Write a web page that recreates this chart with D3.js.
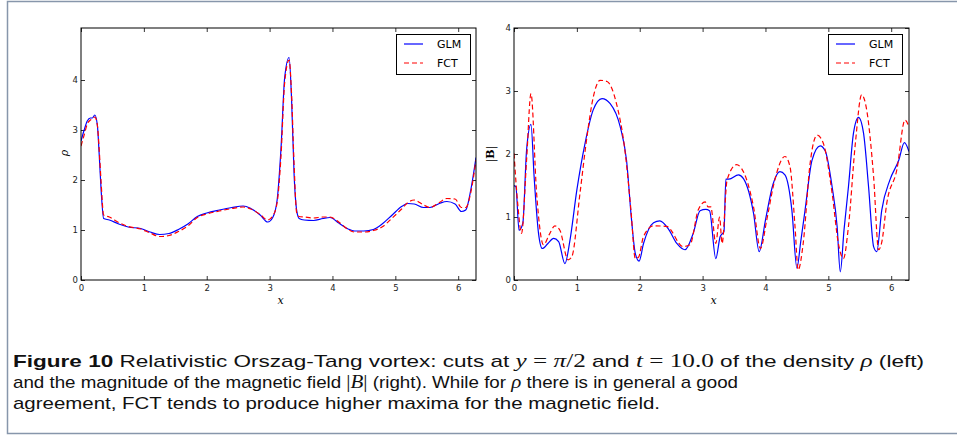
<!DOCTYPE html>
<html lang="en">
<head>
<meta charset="utf-8" />
<title>Orszag-Tang cuts</title>
<script src="https://d3js.org/d3.v7.min.js"></script>
<style>
body { margin:0; background:#fff; }
svg { display:block; }
</style>
</head>
<body>
<div id="figure"></div>
<script type="text/javascript">
// left panel: density rho along the cut
var rhoX   = [0.00,0.05,0.10,0.15,0.18,0.22,0.26,0.29,0.32,0.36,0.45,0.60,0.75,0.95,1.10,1.25,1.40,1.55,1.70,1.85,2.00,2.20,2.40,2.58,2.70,2.85,2.97,3.05,3.12,3.18,3.24,3.31,3.35,3.39,3.43,3.47,3.55,3.70,3.85,3.96,4.10,4.25,4.35,4.50,4.65,4.80,4.95,5.10,5.20,5.30,5.45,5.55,5.70,5.82,5.95,6.05,6.12,6.20,6.283];
var rhoGLM = [2.78,3.00,3.18,3.24,3.24,3.30,3.10,2.50,1.80,1.23,1.20,1.12,1.06,1.03,0.96,0.91,0.93,1.01,1.12,1.27,1.34,1.40,1.45,1.48,1.43,1.30,1.16,1.25,1.60,2.60,4.05,4.45,3.60,2.10,1.40,1.23,1.20,1.19,1.23,1.25,1.14,1.02,0.98,0.98,1.01,1.13,1.30,1.47,1.53,1.52,1.45,1.45,1.53,1.57,1.52,1.37,1.40,1.80,2.45];
var rhoFCT = [2.68,2.90,3.12,3.20,3.22,3.26,3.10,2.60,1.95,1.30,1.26,1.15,1.07,1.02,0.94,0.87,0.89,0.97,1.08,1.25,1.32,1.38,1.43,1.46,1.42,1.31,1.20,1.28,1.55,2.45,3.95,4.40,3.70,2.30,1.35,1.27,1.26,1.24,1.26,1.26,1.16,1.01,0.96,0.96,0.99,1.07,1.24,1.42,1.55,1.60,1.50,1.45,1.55,1.63,1.62,1.45,1.45,1.75,2.40];

// right panel: |B| along the cut (each run read on its own x grid)
var bGlmX = [0.00,0.03,0.08,0.14,0.20,0.27,0.32,0.39,0.45,0.54,0.63,0.71,0.81,0.89,1.00,1.13,1.26,1.40,1.53,1.69,1.79,1.87,1.93,1.99,2.06,2.22,2.32,2.45,2.59,2.72,2.85,2.96,3.05,3.11,3.21,3.28,3.34,3.37,3.42,3.57,3.65,3.81,3.90,4.00,4.12,4.23,4.31,4.42,4.50,4.56,4.63,4.74,4.87,4.95,5.06,5.14,5.19,5.25,5.32,5.40,5.48,5.56,5.64,5.72,5.77,5.85,5.98,6.12,6.21,6.283];
var bGlm  = [1.50,1.48,0.79,0.90,2.06,2.47,1.64,0.74,0.50,0.58,0.66,0.61,0.26,0.63,1.43,2.17,2.70,2.88,2.80,2.43,1.90,0.95,0.42,0.30,0.58,0.91,0.94,0.82,0.58,0.48,0.74,1.10,1.12,1.10,0.34,0.69,0.77,1.60,1.60,1.67,1.61,1.06,0.45,0.95,1.52,1.72,1.67,1.11,0.19,0.60,1.11,1.90,2.13,2.05,1.48,0.85,0.13,0.80,1.48,2.33,2.58,2.33,1.48,0.53,0.45,1.11,1.59,1.90,2.18,2.04];
var bFctX = [0.00,0.06,0.12,0.20,0.27,0.36,0.47,0.56,0.65,0.73,0.86,0.92,1.05,1.16,1.26,1.37,1.48,1.63,1.77,1.86,1.93,1.98,2.06,2.22,2.43,2.69,2.80,2.93,3.04,3.09,3.13,3.21,3.27,3.31,3.39,3.54,3.62,3.81,3.92,4.02,4.13,4.31,4.39,4.47,4.52,4.60,4.71,4.82,4.92,5.06,5.16,5.24,5.32,5.43,5.53,5.61,5.72,5.80,5.85,5.93,6.09,6.22,6.283];
var bFct  = [2.01,1.20,0.74,1.90,2.96,1.37,0.56,0.72,0.86,0.79,0.32,0.37,1.38,2.27,2.90,3.17,3.15,2.80,2.01,1.11,0.34,0.36,0.69,0.86,0.85,0.53,0.56,1.11,1.24,1.16,1.16,0.58,1.00,0.58,1.59,1.83,1.77,1.16,0.50,0.95,1.51,1.96,1.80,0.85,0.16,0.58,1.85,2.30,2.17,1.38,0.58,0.34,0.85,2.17,2.94,2.70,1.64,0.48,0.60,1.22,1.75,2.54,2.43];

var xTicks = [0,1,2,3,4,5,6];
var rhoTicks = [0,1,2,3,4];
var bTicks = [0,1,2,3,4];
var seriesNames = ["GLM","FCT"];

var W = 957, H = 436;
var svg = d3.select("#figure").append("svg")
    .attr("width", W)
    .attr("height", H);

svg.append("rect")
   .attr("x", 0).attr("y", 0)
   .attr("width", W).attr("height", H)
   .attr("fill", "white");

// outer frame of the figure (runs off the right edge)
svg.append("rect")
   .attr("x", 7.5).attr("y", 1.5)
   .attr("width", 960).attr("height", 432)
   .attr("fill", "none")
   .attr("stroke", "#8796ab")
   .attr("stroke-width", 1.5);

function drawPanel(left, right, yMax, yTicks, xs1, ys1, xs2, ys2, legendX) {
  var top = 28, bottom = 280;
  var x = d3.scaleLinear().domain([0, 2*Math.PI]).range([left, right]);
  var y = d3.scaleLinear().domain([0, yMax]).range([bottom, top]);
  var g = svg.append("g");

  // axes: ticks point inward, on all four sides
  var tickFont = "DejaVu Sans, sans-serif";
  g.append("g").attr("transform", "translate(0," + bottom + ")")
   .call(d3.axisBottom(x).tickValues(xTicks).tickFormat(d3.format("d")).tickSizeInner(-4).tickSizeOuter(0).tickPadding(5));
  g.append("g").attr("transform", "translate(0," + top + ")")
   .call(d3.axisTop(x).tickValues(xTicks).tickFormat("").tickSizeInner(-4).tickSizeOuter(0));
  g.append("g").attr("transform", "translate(" + left + ",0)")
   .call(d3.axisLeft(y).tickValues(yTicks).tickFormat(d3.format("d")).tickSizeInner(-4).tickSizeOuter(0).tickPadding(3));
  g.append("g").attr("transform", "translate(" + right + ",0)")
   .call(d3.axisRight(y).tickValues(yTicks).tickFormat("").tickSizeInner(-4).tickSizeOuter(0));
  g.selectAll(".domain").remove();
  g.selectAll(".tick line").attr("stroke", "#000").attr("stroke-width", 0.8);
  g.selectAll(".tick text").attr("font-family", tickFont).attr("font-size", 8.5).attr("fill", "#222");

  var line1 = d3.line().x(function(d){ return x(d[0]); }).y(function(d){ return y(d[1]); }).curve(d3.curveMonotoneX);
  var clipId = "clip" + left;
  svg.append("clipPath").attr("id", clipId).append("rect")
     .attr("x", left).attr("y", top).attr("width", right - left).attr("height", bottom - top);

  var d1 = d3.zip(xs1, ys1), d2 = d3.zip(xs2, ys2);
  g.append("path").datum(d1)
   .attr("clip-path", "url(#" + clipId + ")")
   .attr("d", line1).attr("fill", "none")
   .attr("stroke", "#0000ff").attr("stroke-width", 1.2);
  g.append("path").datum(d2)
   .attr("clip-path", "url(#" + clipId + ")")
   .attr("d", line1).attr("fill", "none")
   .attr("stroke", "#ff0000").attr("stroke-width", 1.2)
   .attr("stroke-dasharray", "5,3");

  // spines
  g.append("rect")
   .attr("x", left).attr("y", top)
   .attr("width", right - left).attr("height", bottom - top)
   .attr("fill", "none").attr("stroke", "#000").attr("stroke-width", 1);

  // legend
  var lg = g.append("g").attr("transform", "translate(" + legendX + ",34)");
  lg.append("rect").attr("x", 0.5).attr("y", 0.5).attr("width", 74).attr("height", 40)
    .attr("fill", "white").attr("stroke", "#000").attr("stroke-width", 1);
  seriesNames.forEach(function(name, i) {
    var ly = 10 + i * 19;
    lg.append("line").attr("x1", 8).attr("x2", 27).attr("y1", ly).attr("y2", ly)
      .attr("stroke", i == 0 ? "#0000ff" : "#ff0000").attr("stroke-width", 1.2)
      .attr("stroke-dasharray", i == 0 ? null : "5,3");
    lg.append("text").attr("x", 41).attr("y", ly + 4).text(name)
      .attr("font-family", tickFont).attr("font-size", 11);
  });

  // x label
  g.append("text").attr("x", (left + right) / 2 + 2).attr("y", 304)
   .attr("text-anchor", "middle")
   .attr("font-family", "DejaVu Serif, serif").attr("font-style", "italic").attr("font-size", 11)
   .text("x");
  return g;
}

var gl = drawPanel(81, 476, 5.04, rhoTicks, rhoX, rhoGLM, rhoX, rhoFCT, 396);
gl.append("text").attr("transform", "translate(68,153) rotate(-90)")
  .attr("text-anchor", "middle")
  .attr("font-family", "DejaVu Serif, serif").attr("font-style", "italic").attr("font-size", 11)
  .text("ρ");

var gr = drawPanel(514, 909, 4, bTicks, bGlmX, bGlm, bFctX, bFct, 828);
var bl = gr.append("text").attr("transform", "translate(494,154) rotate(-90)")
  .attr("text-anchor", "middle")
  .attr("font-family", "DejaVu Serif, serif").attr("font-size", 11);
bl.append("tspan").text("|");
bl.append("tspan").attr("font-weight", "bold").text("B");
bl.append("tspan").text("|");

// caption
var capFont = "Liberation Sans, Arial, sans-serif";
var mathFont = "Liberation Serif, Times New Roman, serif";
var captionLines = [
  [["Figure 10", "b"], [" Relativistic Orszag-Tang vortex: cuts at ", ""], ["y", "i"], ["\u00a0=\u00a0", "m"], ["π", "i"], ["/2", "m"], [" and ", ""], ["t", "i"], ["\u00a0=\u00a010.0", "m"], [" of the density ", ""], ["ρ", "i"], [" (left)", ""]],
  [["and the magnitude of the magnetic field ", ""], ["|", "m"], ["B", "i"], ["|", "m"], [" (right). While for ", ""], ["ρ", "i"], [" there is in general a good", ""]],
  [["agreement, FCT tends to produce higher maxima for the magnetic field.", ""]]
];
var captionWidths = [911, 725, 647];
captionLines.forEach(function(parts, i) {
  var t = svg.append("text").attr("x", 13).attr("y", 367 + i * 21)
    .attr("font-family", capFont).attr("font-size", 17).attr("fill", "#111");
  parts.forEach(function(p) {
    var s = t.append("tspan").text(p[0]);
    if (p[1] == "b") s.attr("font-weight", "bold");
    if (p[1] == "i") s.attr("font-family", mathFont).attr("font-style", "italic").attr("font-size", 19);
    if (p[1] == "m") s.attr("font-family", mathFont).attr("font-size", 19);
  });
  t.attr("textLength", captionWidths[i]).attr("lengthAdjust", "spacingAndGlyphs");
});
</script>
</body>
</html>
